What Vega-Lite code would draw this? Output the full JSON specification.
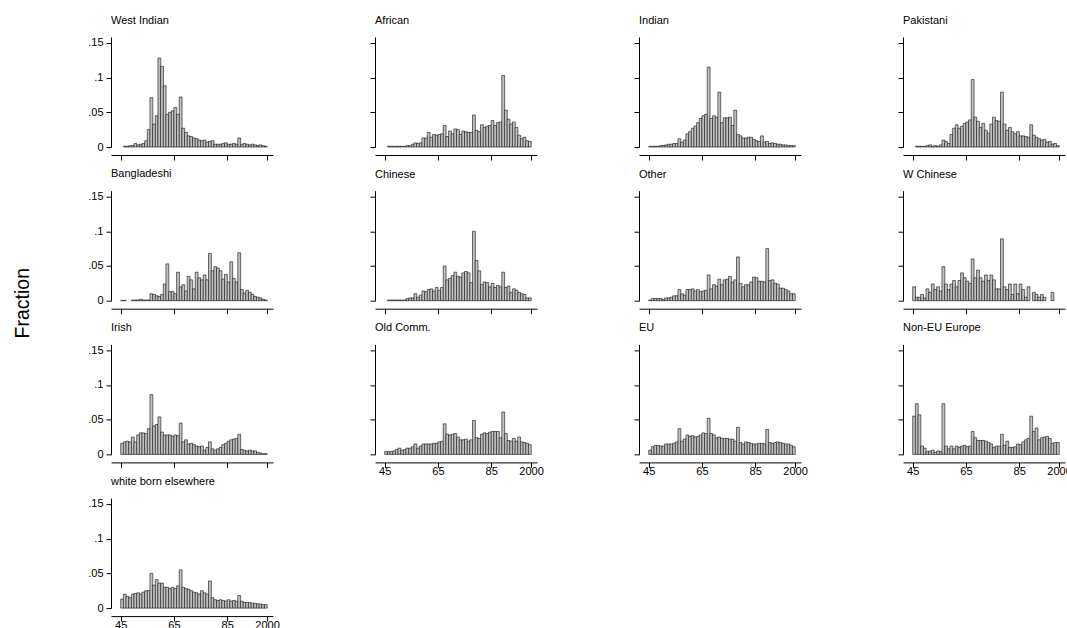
{
"$schema":"https://vega.github.io/schema/vega-lite/v6.json",
"padding":{"left":12,"top":14,"right":0,"bottom":0},
"background":"white",
"bounds":"flush",
"columns":4,
"spacing":{"row":43.7,"column":102},
"datasets":{"d":[
{"g":"WI","y":1946,"f":0.001},{"g":"WI","y":1947,"f":0.001},{"g":"WI","y":1948,"f":0.002},{"g":"WI","y":1949,"f":0.002},{"g":"WI","y":1950,"f":0.005},{"g":"WI","y":1951,"f":0.003},{"g":"WI","y":1952,"f":0.004},{"g":"WI","y":1953,"f":0.005},{"g":"WI","y":1954,"f":0.009},{"g":"WI","y":1955,"f":0.025},{"g":"WI","y":1956,"f":0.071},{"g":"WI","y":1957,"f":0.033},{"g":"WI","y":1958,"f":0.045},{"g":"WI","y":1959,"f":0.128},{"g":"WI","y":1960,"f":0.116},{"g":"WI","y":1961,"f":0.088},{"g":"WI","y":1962,"f":0.047},{"g":"WI","y":1963,"f":0.050},{"g":"WI","y":1964,"f":0.052},{"g":"WI","y":1965,"f":0.057},{"g":"WI","y":1966,"f":0.047},{"g":"WI","y":1967,"f":0.072},{"g":"WI","y":1968,"f":0.027},{"g":"WI","y":1969,"f":0.021},{"g":"WI","y":1970,"f":0.016},{"g":"WI","y":1971,"f":0.015},{"g":"WI","y":1972,"f":0.013},{"g":"WI","y":1973,"f":0.012},{"g":"WI","y":1974,"f":0.010},{"g":"WI","y":1975,"f":0.009},{"g":"WI","y":1976,"f":0.010},{"g":"WI","y":1977,"f":0.007},{"g":"WI","y":1978,"f":0.008},{"g":"WI","y":1979,"f":0.009},{"g":"WI","y":1980,"f":0.004},{"g":"WI","y":1981,"f":0.004},{"g":"WI","y":1982,"f":0.004},{"g":"WI","y":1983,"f":0.005},{"g":"WI","y":1984,"f":0.006},{"g":"WI","y":1985,"f":0.004},{"g":"WI","y":1986,"f":0.004},{"g":"WI","y":1987,"f":0.005},{"g":"WI","y":1988,"f":0.004},{"g":"WI","y":1989,"f":0.013},{"g":"WI","y":1990,"f":0.004},{"g":"WI","y":1991,"f":0.005},{"g":"WI","y":1992,"f":0.004},{"g":"WI","y":1993,"f":0.003},{"g":"WI","y":1994,"f":0.004},{"g":"WI","y":1995,"f":0.003},{"g":"WI","y":1996,"f":0.002},{"g":"WI","y":1997,"f":0.003},{"g":"WI","y":1998,"f":0.002},{"g":"WI","y":1999,"f":0.001},
{"g":"AF","y":1946,"f":0.001},{"g":"AF","y":1947,"f":0.001},{"g":"AF","y":1948,"f":0.001},{"g":"AF","y":1949,"f":0.001},{"g":"AF","y":1950,"f":0.001},{"g":"AF","y":1951,"f":0.001},{"g":"AF","y":1952,"f":0.001},{"g":"AF","y":1953,"f":0.002},{"g":"AF","y":1954,"f":0.002},{"g":"AF","y":1955,"f":0.004},{"g":"AF","y":1956,"f":0.006},{"g":"AF","y":1957,"f":0.005},{"g":"AF","y":1958,"f":0.006},{"g":"AF","y":1959,"f":0.013},{"g":"AF","y":1960,"f":0.013},{"g":"AF","y":1961,"f":0.021},{"g":"AF","y":1962,"f":0.014},{"g":"AF","y":1963,"f":0.018},{"g":"AF","y":1964,"f":0.017},{"g":"AF","y":1965,"f":0.018},{"g":"AF","y":1966,"f":0.019},{"g":"AF","y":1967,"f":0.031},{"g":"AF","y":1968,"f":0.015},{"g":"AF","y":1969,"f":0.023},{"g":"AF","y":1970,"f":0.019},{"g":"AF","y":1971,"f":0.026},{"g":"AF","y":1972,"f":0.025},{"g":"AF","y":1973,"f":0.018},{"g":"AF","y":1974,"f":0.023},{"g":"AF","y":1975,"f":0.022},{"g":"AF","y":1976,"f":0.021},{"g":"AF","y":1977,"f":0.021},{"g":"AF","y":1978,"f":0.046},{"g":"AF","y":1979,"f":0.024},{"g":"AF","y":1980,"f":0.022},{"g":"AF","y":1981,"f":0.032},{"g":"AF","y":1982,"f":0.028},{"g":"AF","y":1983,"f":0.030},{"g":"AF","y":1984,"f":0.031},{"g":"AF","y":1985,"f":0.038},{"g":"AF","y":1986,"f":0.031},{"g":"AF","y":1987,"f":0.035},{"g":"AF","y":1988,"f":0.036},{"g":"AF","y":1989,"f":0.103},{"g":"AF","y":1990,"f":0.053},{"g":"AF","y":1991,"f":0.040},{"g":"AF","y":1992,"f":0.033},{"g":"AF","y":1993,"f":0.036},{"g":"AF","y":1994,"f":0.028},{"g":"AF","y":1995,"f":0.017},{"g":"AF","y":1996,"f":0.012},{"g":"AF","y":1997,"f":0.014},{"g":"AF","y":1998,"f":0.009},{"g":"AF","y":1999,"f":0.008},
{"g":"IN","y":1945,"f":0.001},{"g":"IN","y":1946,"f":0.001},{"g":"IN","y":1947,"f":0.001},{"g":"IN","y":1948,"f":0.001},{"g":"IN","y":1949,"f":0.002},{"g":"IN","y":1950,"f":0.002},{"g":"IN","y":1951,"f":0.003},{"g":"IN","y":1952,"f":0.004},{"g":"IN","y":1953,"f":0.004},{"g":"IN","y":1954,"f":0.005},{"g":"IN","y":1955,"f":0.005},{"g":"IN","y":1956,"f":0.012},{"g":"IN","y":1957,"f":0.007},{"g":"IN","y":1958,"f":0.010},{"g":"IN","y":1959,"f":0.019},{"g":"IN","y":1960,"f":0.022},{"g":"IN","y":1961,"f":0.027},{"g":"IN","y":1962,"f":0.030},{"g":"IN","y":1963,"f":0.035},{"g":"IN","y":1964,"f":0.041},{"g":"IN","y":1965,"f":0.045},{"g":"IN","y":1966,"f":0.047},{"g":"IN","y":1967,"f":0.115},{"g":"IN","y":1968,"f":0.041},{"g":"IN","y":1969,"f":0.045},{"g":"IN","y":1970,"f":0.043},{"g":"IN","y":1971,"f":0.079},{"g":"IN","y":1972,"f":0.035},{"g":"IN","y":1973,"f":0.042},{"g":"IN","y":1974,"f":0.042},{"g":"IN","y":1975,"f":0.043},{"g":"IN","y":1976,"f":0.031},{"g":"IN","y":1977,"f":0.053},{"g":"IN","y":1978,"f":0.018},{"g":"IN","y":1979,"f":0.016},{"g":"IN","y":1980,"f":0.013},{"g":"IN","y":1981,"f":0.013},{"g":"IN","y":1982,"f":0.014},{"g":"IN","y":1983,"f":0.014},{"g":"IN","y":1984,"f":0.011},{"g":"IN","y":1985,"f":0.009},{"g":"IN","y":1986,"f":0.008},{"g":"IN","y":1987,"f":0.016},{"g":"IN","y":1988,"f":0.007},{"g":"IN","y":1989,"f":0.008},{"g":"IN","y":1990,"f":0.005},{"g":"IN","y":1991,"f":0.006},{"g":"IN","y":1992,"f":0.005},{"g":"IN","y":1993,"f":0.004},{"g":"IN","y":1994,"f":0.004},{"g":"IN","y":1995,"f":0.003},{"g":"IN","y":1996,"f":0.003},{"g":"IN","y":1997,"f":0.002},{"g":"IN","y":1998,"f":0.002},{"g":"IN","y":1999,"f":0.002},
{"g":"PK","y":1946,"f":0.001},{"g":"PK","y":1947,"f":0.001},{"g":"PK","y":1948,"f":0.001},{"g":"PK","y":1949,"f":0.001},{"g":"PK","y":1950,"f":0.002},{"g":"PK","y":1951,"f":0.003},{"g":"PK","y":1952,"f":0.001},{"g":"PK","y":1953,"f":0.002},{"g":"PK","y":1954,"f":0.001},{"g":"PK","y":1955,"f":0.003},{"g":"PK","y":1956,"f":0.010},{"g":"PK","y":1957,"f":0.008},{"g":"PK","y":1958,"f":0.005},{"g":"PK","y":1959,"f":0.018},{"g":"PK","y":1960,"f":0.027},{"g":"PK","y":1961,"f":0.032},{"g":"PK","y":1962,"f":0.027},{"g":"PK","y":1963,"f":0.030},{"g":"PK","y":1964,"f":0.034},{"g":"PK","y":1965,"f":0.036},{"g":"PK","y":1966,"f":0.039},{"g":"PK","y":1967,"f":0.097},{"g":"PK","y":1968,"f":0.043},{"g":"PK","y":1969,"f":0.037},{"g":"PK","y":1970,"f":0.028},{"g":"PK","y":1971,"f":0.034},{"g":"PK","y":1972,"f":0.024},{"g":"PK","y":1973,"f":0.020},{"g":"PK","y":1974,"f":0.033},{"g":"PK","y":1975,"f":0.043},{"g":"PK","y":1976,"f":0.038},{"g":"PK","y":1977,"f":0.037},{"g":"PK","y":1978,"f":0.079},{"g":"PK","y":1979,"f":0.033},{"g":"PK","y":1980,"f":0.024},{"g":"PK","y":1981,"f":0.028},{"g":"PK","y":1982,"f":0.022},{"g":"PK","y":1983,"f":0.019},{"g":"PK","y":1984,"f":0.022},{"g":"PK","y":1985,"f":0.016},{"g":"PK","y":1986,"f":0.016},{"g":"PK","y":1987,"f":0.015},{"g":"PK","y":1988,"f":0.014},{"g":"PK","y":1989,"f":0.032},{"g":"PK","y":1990,"f":0.017},{"g":"PK","y":1991,"f":0.014},{"g":"PK","y":1992,"f":0.012},{"g":"PK","y":1993,"f":0.010},{"g":"PK","y":1994,"f":0.011},{"g":"PK","y":1995,"f":0.007},{"g":"PK","y":1996,"f":0.008},{"g":"PK","y":1997,"f":0.004},{"g":"PK","y":1998,"f":0.005},{"g":"PK","y":1999,"f":0.002},
{"g":"BD","y":1945,"f":0.0005},{"g":"BD","y":1946,"f":0.0005},{"g":"BD","y":1949,"f":0.001},{"g":"BD","y":1950,"f":0.001},{"g":"BD","y":1951,"f":0.001},{"g":"BD","y":1952,"f":0.002},{"g":"BD","y":1953,"f":0.001},{"g":"BD","y":1954,"f":0.001},{"g":"BD","y":1955,"f":0.001},{"g":"BD","y":1956,"f":0.010},{"g":"BD","y":1957,"f":0.009},{"g":"BD","y":1958,"f":0.007},{"g":"BD","y":1959,"f":0.006},{"g":"BD","y":1960,"f":0.009},{"g":"BD","y":1961,"f":0.024},{"g":"BD","y":1962,"f":0.053},{"g":"BD","y":1963,"f":0.013},{"g":"BD","y":1964,"f":0.013},{"g":"BD","y":1965,"f":0.010},{"g":"BD","y":1966,"f":0.041},{"g":"BD","y":1967,"f":0.020},{"g":"BD","y":1968,"f":0.023},{"g":"BD","y":1969,"f":0.014},{"g":"BD","y":1970,"f":0.035},{"g":"BD","y":1971,"f":0.030},{"g":"BD","y":1972,"f":0.017},{"g":"BD","y":1973,"f":0.041},{"g":"BD","y":1974,"f":0.033},{"g":"BD","y":1975,"f":0.030},{"g":"BD","y":1976,"f":0.037},{"g":"BD","y":1977,"f":0.030},{"g":"BD","y":1978,"f":0.068},{"g":"BD","y":1979,"f":0.043},{"g":"BD","y":1980,"f":0.049},{"g":"BD","y":1981,"f":0.047},{"g":"BD","y":1982,"f":0.043},{"g":"BD","y":1983,"f":0.031},{"g":"BD","y":1984,"f":0.038},{"g":"BD","y":1985,"f":0.027},{"g":"BD","y":1986,"f":0.056},{"g":"BD","y":1987,"f":0.032},{"g":"BD","y":1988,"f":0.027},{"g":"BD","y":1989,"f":0.069},{"g":"BD","y":1990,"f":0.016},{"g":"BD","y":1991,"f":0.011},{"g":"BD","y":1992,"f":0.015},{"g":"BD","y":1993,"f":0.012},{"g":"BD","y":1994,"f":0.009},{"g":"BD","y":1995,"f":0.006},{"g":"BD","y":1996,"f":0.005},{"g":"BD","y":1997,"f":0.004},{"g":"BD","y":1998,"f":0.002},{"g":"BD","y":1999,"f":0.001},
{"g":"CN","y":1946,"f":0.001},{"g":"CN","y":1947,"f":0.001},{"g":"CN","y":1948,"f":0.001},{"g":"CN","y":1949,"f":0.001},{"g":"CN","y":1950,"f":0.001},{"g":"CN","y":1951,"f":0.001},{"g":"CN","y":1952,"f":0.001},{"g":"CN","y":1953,"f":0.003},{"g":"CN","y":1954,"f":0.004},{"g":"CN","y":1955,"f":0.004},{"g":"CN","y":1956,"f":0.010},{"g":"CN","y":1957,"f":0.005},{"g":"CN","y":1958,"f":0.008},{"g":"CN","y":1959,"f":0.014},{"g":"CN","y":1960,"f":0.013},{"g":"CN","y":1961,"f":0.016},{"g":"CN","y":1962,"f":0.017},{"g":"CN","y":1963,"f":0.014},{"g":"CN","y":1964,"f":0.019},{"g":"CN","y":1965,"f":0.015},{"g":"CN","y":1966,"f":0.019},{"g":"CN","y":1967,"f":0.050},{"g":"CN","y":1968,"f":0.030},{"g":"CN","y":1969,"f":0.032},{"g":"CN","y":1970,"f":0.036},{"g":"CN","y":1971,"f":0.041},{"g":"CN","y":1972,"f":0.035},{"g":"CN","y":1973,"f":0.034},{"g":"CN","y":1974,"f":0.040},{"g":"CN","y":1975,"f":0.042},{"g":"CN","y":1976,"f":0.040},{"g":"CN","y":1977,"f":0.026},{"g":"CN","y":1978,"f":0.100},{"g":"CN","y":1979,"f":0.058},{"g":"CN","y":1980,"f":0.043},{"g":"CN","y":1981,"f":0.023},{"g":"CN","y":1982,"f":0.027},{"g":"CN","y":1983,"f":0.026},{"g":"CN","y":1984,"f":0.020},{"g":"CN","y":1985,"f":0.025},{"g":"CN","y":1986,"f":0.019},{"g":"CN","y":1987,"f":0.022},{"g":"CN","y":1988,"f":0.020},{"g":"CN","y":1989,"f":0.041},{"g":"CN","y":1990,"f":0.019},{"g":"CN","y":1991,"f":0.021},{"g":"CN","y":1992,"f":0.012},{"g":"CN","y":1993,"f":0.017},{"g":"CN","y":1994,"f":0.015},{"g":"CN","y":1995,"f":0.012},{"g":"CN","y":1996,"f":0.010},{"g":"CN","y":1997,"f":0.009},{"g":"CN","y":1998,"f":0.004},{"g":"CN","y":1999,"f":0.004},
{"g":"OT","y":1945,"f":0.001},{"g":"OT","y":1946,"f":0.003},{"g":"OT","y":1947,"f":0.003},{"g":"OT","y":1948,"f":0.003},{"g":"OT","y":1949,"f":0.003},{"g":"OT","y":1950,"f":0.002},{"g":"OT","y":1951,"f":0.004},{"g":"OT","y":1952,"f":0.004},{"g":"OT","y":1953,"f":0.005},{"g":"OT","y":1954,"f":0.007},{"g":"OT","y":1955,"f":0.007},{"g":"OT","y":1956,"f":0.016},{"g":"OT","y":1957,"f":0.010},{"g":"OT","y":1958,"f":0.008},{"g":"OT","y":1959,"f":0.016},{"g":"OT","y":1960,"f":0.016},{"g":"OT","y":1961,"f":0.017},{"g":"OT","y":1962,"f":0.014},{"g":"OT","y":1963,"f":0.016},{"g":"OT","y":1964,"f":0.013},{"g":"OT","y":1965,"f":0.014},{"g":"OT","y":1966,"f":0.015},{"g":"OT","y":1967,"f":0.037},{"g":"OT","y":1968,"f":0.017},{"g":"OT","y":1969,"f":0.023},{"g":"OT","y":1970,"f":0.021},{"g":"OT","y":1971,"f":0.031},{"g":"OT","y":1972,"f":0.023},{"g":"OT","y":1973,"f":0.030},{"g":"OT","y":1974,"f":0.031},{"g":"OT","y":1975,"f":0.035},{"g":"OT","y":1976,"f":0.027},{"g":"OT","y":1977,"f":0.030},{"g":"OT","y":1978,"f":0.063},{"g":"OT","y":1979,"f":0.025},{"g":"OT","y":1980,"f":0.020},{"g":"OT","y":1981,"f":0.023},{"g":"OT","y":1982,"f":0.023},{"g":"OT","y":1983,"f":0.027},{"g":"OT","y":1984,"f":0.034},{"g":"OT","y":1985,"f":0.033},{"g":"OT","y":1986,"f":0.028},{"g":"OT","y":1987,"f":0.028},{"g":"OT","y":1988,"f":0.027},{"g":"OT","y":1989,"f":0.075},{"g":"OT","y":1990,"f":0.029},{"g":"OT","y":1991,"f":0.030},{"g":"OT","y":1992,"f":0.025},{"g":"OT","y":1993,"f":0.024},{"g":"OT","y":1994,"f":0.018},{"g":"OT","y":1995,"f":0.018},{"g":"OT","y":1996,"f":0.016},{"g":"OT","y":1997,"f":0.014},{"g":"OT","y":1998,"f":0.010},{"g":"OT","y":1999,"f":0.010},
{"g":"WC","y":1945,"f":0.020},{"g":"WC","y":1946,"f":0.005},{"g":"WC","y":1947,"f":0.005},{"g":"WC","y":1948,"f":0.009},{"g":"WC","y":1949,"f":0.004},{"g":"WC","y":1950,"f":0.017},{"g":"WC","y":1951,"f":0.012},{"g":"WC","y":1952,"f":0.024},{"g":"WC","y":1953,"f":0.016},{"g":"WC","y":1954,"f":0.020},{"g":"WC","y":1955,"f":0.014},{"g":"WC","y":1956,"f":0.049},{"g":"WC","y":1957,"f":0.024},{"g":"WC","y":1958,"f":0.016},{"g":"WC","y":1959,"f":0.024},{"g":"WC","y":1960,"f":0.029},{"g":"WC","y":1961,"f":0.020},{"g":"WC","y":1962,"f":0.029},{"g":"WC","y":1963,"f":0.040},{"g":"WC","y":1964,"f":0.033},{"g":"WC","y":1965,"f":0.028},{"g":"WC","y":1966,"f":0.025},{"g":"WC","y":1967,"f":0.060},{"g":"WC","y":1968,"f":0.033},{"g":"WC","y":1969,"f":0.044},{"g":"WC","y":1970,"f":0.033},{"g":"WC","y":1971,"f":0.028},{"g":"WC","y":1972,"f":0.037},{"g":"WC","y":1973,"f":0.029},{"g":"WC","y":1974,"f":0.037},{"g":"WC","y":1975,"f":0.030},{"g":"WC","y":1976,"f":0.017},{"g":"WC","y":1977,"f":0.017},{"g":"WC","y":1978,"f":0.089},{"g":"WC","y":1979,"f":0.020},{"g":"WC","y":1980,"f":0.016},{"g":"WC","y":1981,"f":0.024},{"g":"WC","y":1982,"f":0.009},{"g":"WC","y":1983,"f":0.024},{"g":"WC","y":1984,"f":0.010},{"g":"WC","y":1985,"f":0.024},{"g":"WC","y":1986,"f":0.016},{"g":"WC","y":1987,"f":0.005},{"g":"WC","y":1988,"f":0.020},{"g":"WC","y":1990,"f":0.012},{"g":"WC","y":1991,"f":0.009},{"g":"WC","y":1992,"f":0.005},{"g":"WC","y":1993,"f":0.009},{"g":"WC","y":1994,"f":0.005},{"g":"WC","y":1997,"f":0.012},
{"g":"IR","y":1945,"f":0.016},{"g":"IR","y":1946,"f":0.018},{"g":"IR","y":1947,"f":0.019},{"g":"IR","y":1948,"f":0.018},{"g":"IR","y":1949,"f":0.025},{"g":"IR","y":1950,"f":0.018},{"g":"IR","y":1951,"f":0.028},{"g":"IR","y":1952,"f":0.031},{"g":"IR","y":1953,"f":0.031},{"g":"IR","y":1954,"f":0.030},{"g":"IR","y":1955,"f":0.037},{"g":"IR","y":1956,"f":0.086},{"g":"IR","y":1957,"f":0.041},{"g":"IR","y":1958,"f":0.043},{"g":"IR","y":1959,"f":0.054},{"g":"IR","y":1960,"f":0.032},{"g":"IR","y":1961,"f":0.028},{"g":"IR","y":1962,"f":0.028},{"g":"IR","y":1963,"f":0.028},{"g":"IR","y":1964,"f":0.026},{"g":"IR","y":1965,"f":0.028},{"g":"IR","y":1966,"f":0.027},{"g":"IR","y":1967,"f":0.045},{"g":"IR","y":1968,"f":0.018},{"g":"IR","y":1969,"f":0.021},{"g":"IR","y":1970,"f":0.015},{"g":"IR","y":1971,"f":0.016},{"g":"IR","y":1972,"f":0.014},{"g":"IR","y":1973,"f":0.012},{"g":"IR","y":1974,"f":0.011},{"g":"IR","y":1975,"f":0.012},{"g":"IR","y":1976,"f":0.006},{"g":"IR","y":1977,"f":0.010},{"g":"IR","y":1978,"f":0.018},{"g":"IR","y":1979,"f":0.008},{"g":"IR","y":1980,"f":0.006},{"g":"IR","y":1981,"f":0.008},{"g":"IR","y":1982,"f":0.010},{"g":"IR","y":1983,"f":0.014},{"g":"IR","y":1984,"f":0.016},{"g":"IR","y":1985,"f":0.019},{"g":"IR","y":1986,"f":0.021},{"g":"IR","y":1987,"f":0.022},{"g":"IR","y":1988,"f":0.023},{"g":"IR","y":1989,"f":0.029},{"g":"IR","y":1990,"f":0.007},{"g":"IR","y":1991,"f":0.006},{"g":"IR","y":1992,"f":0.005},{"g":"IR","y":1993,"f":0.006},{"g":"IR","y":1994,"f":0.005},{"g":"IR","y":1995,"f":0.005},{"g":"IR","y":1996,"f":0.003},{"g":"IR","y":1997,"f":0.002},{"g":"IR","y":1998,"f":0.001},{"g":"IR","y":1999,"f":0.001},
{"g":"OC","y":1945,"f":0.004},{"g":"OC","y":1946,"f":0.004},{"g":"OC","y":1947,"f":0.004},{"g":"OC","y":1948,"f":0.005},{"g":"OC","y":1949,"f":0.007},{"g":"OC","y":1950,"f":0.009},{"g":"OC","y":1951,"f":0.006},{"g":"OC","y":1952,"f":0.007},{"g":"OC","y":1953,"f":0.009},{"g":"OC","y":1954,"f":0.009},{"g":"OC","y":1955,"f":0.011},{"g":"OC","y":1956,"f":0.015},{"g":"OC","y":1957,"f":0.009},{"g":"OC","y":1958,"f":0.012},{"g":"OC","y":1959,"f":0.015},{"g":"OC","y":1960,"f":0.015},{"g":"OC","y":1961,"f":0.015},{"g":"OC","y":1962,"f":0.015},{"g":"OC","y":1963,"f":0.016},{"g":"OC","y":1964,"f":0.016},{"g":"OC","y":1965,"f":0.018},{"g":"OC","y":1966,"f":0.019},{"g":"OC","y":1967,"f":0.044},{"g":"OC","y":1968,"f":0.029},{"g":"OC","y":1969,"f":0.028},{"g":"OC","y":1970,"f":0.029},{"g":"OC","y":1971,"f":0.030},{"g":"OC","y":1972,"f":0.025},{"g":"OC","y":1973,"f":0.021},{"g":"OC","y":1974,"f":0.021},{"g":"OC","y":1975,"f":0.022},{"g":"OC","y":1976,"f":0.019},{"g":"OC","y":1977,"f":0.021},{"g":"OC","y":1978,"f":0.049},{"g":"OC","y":1979,"f":0.024},{"g":"OC","y":1980,"f":0.023},{"g":"OC","y":1981,"f":0.029},{"g":"OC","y":1982,"f":0.031},{"g":"OC","y":1983,"f":0.030},{"g":"OC","y":1984,"f":0.032},{"g":"OC","y":1985,"f":0.033},{"g":"OC","y":1986,"f":0.033},{"g":"OC","y":1987,"f":0.033},{"g":"OC","y":1988,"f":0.024},{"g":"OC","y":1989,"f":0.061},{"g":"OC","y":1990,"f":0.030},{"g":"OC","y":1991,"f":0.020},{"g":"OC","y":1992,"f":0.019},{"g":"OC","y":1993,"f":0.023},{"g":"OC","y":1994,"f":0.019},{"g":"OC","y":1995,"f":0.025},{"g":"OC","y":1996,"f":0.018},{"g":"OC","y":1997,"f":0.017},{"g":"OC","y":1998,"f":0.016},{"g":"OC","y":1999,"f":0.014},
{"g":"EU","y":1945,"f":0.006},{"g":"EU","y":1946,"f":0.011},{"g":"EU","y":1947,"f":0.013},{"g":"EU","y":1948,"f":0.013},{"g":"EU","y":1949,"f":0.012},{"g":"EU","y":1950,"f":0.012},{"g":"EU","y":1951,"f":0.015},{"g":"EU","y":1952,"f":0.015},{"g":"EU","y":1953,"f":0.015},{"g":"EU","y":1954,"f":0.016},{"g":"EU","y":1955,"f":0.018},{"g":"EU","y":1956,"f":0.037},{"g":"EU","y":1957,"f":0.019},{"g":"EU","y":1958,"f":0.022},{"g":"EU","y":1959,"f":0.028},{"g":"EU","y":1960,"f":0.026},{"g":"EU","y":1961,"f":0.027},{"g":"EU","y":1962,"f":0.025},{"g":"EU","y":1963,"f":0.026},{"g":"EU","y":1964,"f":0.028},{"g":"EU","y":1965,"f":0.031},{"g":"EU","y":1966,"f":0.030},{"g":"EU","y":1967,"f":0.052},{"g":"EU","y":1968,"f":0.030},{"g":"EU","y":1969,"f":0.028},{"g":"EU","y":1970,"f":0.024},{"g":"EU","y":1971,"f":0.025},{"g":"EU","y":1972,"f":0.023},{"g":"EU","y":1973,"f":0.023},{"g":"EU","y":1974,"f":0.023},{"g":"EU","y":1975,"f":0.022},{"g":"EU","y":1976,"f":0.022},{"g":"EU","y":1977,"f":0.019},{"g":"EU","y":1978,"f":0.039},{"g":"EU","y":1979,"f":0.017},{"g":"EU","y":1980,"f":0.015},{"g":"EU","y":1981,"f":0.018},{"g":"EU","y":1982,"f":0.017},{"g":"EU","y":1983,"f":0.016},{"g":"EU","y":1984,"f":0.015},{"g":"EU","y":1985,"f":0.015},{"g":"EU","y":1986,"f":0.016},{"g":"EU","y":1987,"f":0.016},{"g":"EU","y":1988,"f":0.015},{"g":"EU","y":1989,"f":0.036},{"g":"EU","y":1990,"f":0.017},{"g":"EU","y":1991,"f":0.016},{"g":"EU","y":1992,"f":0.017},{"g":"EU","y":1993,"f":0.018},{"g":"EU","y":1994,"f":0.017},{"g":"EU","y":1995,"f":0.016},{"g":"EU","y":1996,"f":0.015},{"g":"EU","y":1997,"f":0.015},{"g":"EU","y":1998,"f":0.013},{"g":"EU","y":1999,"f":0.011},
{"g":"NE","y":1945,"f":0.055},{"g":"NE","y":1946,"f":0.073},{"g":"NE","y":1947,"f":0.057},{"g":"NE","y":1948,"f":0.012},{"g":"NE","y":1949,"f":0.009},{"g":"NE","y":1950,"f":0.004},{"g":"NE","y":1951,"f":0.005},{"g":"NE","y":1952,"f":0.006},{"g":"NE","y":1953,"f":0.003},{"g":"NE","y":1954,"f":0.005},{"g":"NE","y":1955,"f":0.004},{"g":"NE","y":1956,"f":0.073},{"g":"NE","y":1957,"f":0.012},{"g":"NE","y":1958,"f":0.008},{"g":"NE","y":1959,"f":0.012},{"g":"NE","y":1960,"f":0.008},{"g":"NE","y":1961,"f":0.012},{"g":"NE","y":1962,"f":0.010},{"g":"NE","y":1963,"f":0.012},{"g":"NE","y":1964,"f":0.013},{"g":"NE","y":1965,"f":0.011},{"g":"NE","y":1966,"f":0.012},{"g":"NE","y":1967,"f":0.033},{"g":"NE","y":1968,"f":0.024},{"g":"NE","y":1969,"f":0.020},{"g":"NE","y":1970,"f":0.020},{"g":"NE","y":1971,"f":0.020},{"g":"NE","y":1972,"f":0.019},{"g":"NE","y":1973,"f":0.017},{"g":"NE","y":1974,"f":0.015},{"g":"NE","y":1975,"f":0.010},{"g":"NE","y":1976,"f":0.012},{"g":"NE","y":1977,"f":0.012},{"g":"NE","y":1978,"f":0.029},{"g":"NE","y":1979,"f":0.013},{"g":"NE","y":1980,"f":0.019},{"g":"NE","y":1981,"f":0.010},{"g":"NE","y":1982,"f":0.010},{"g":"NE","y":1983,"f":0.011},{"g":"NE","y":1984,"f":0.015},{"g":"NE","y":1985,"f":0.014},{"g":"NE","y":1986,"f":0.018},{"g":"NE","y":1987,"f":0.021},{"g":"NE","y":1988,"f":0.023},{"g":"NE","y":1989,"f":0.055},{"g":"NE","y":1990,"f":0.033},{"g":"NE","y":1991,"f":0.038},{"g":"NE","y":1992,"f":0.021},{"g":"NE","y":1993,"f":0.024},{"g":"NE","y":1994,"f":0.025},{"g":"NE","y":1995,"f":0.026},{"g":"NE","y":1996,"f":0.023},{"g":"NE","y":1997,"f":0.016},{"g":"NE","y":1998,"f":0.017},{"g":"NE","y":1999,"f":0.017},
{"g":"WB","y":1945,"f":0.013},{"g":"WB","y":1946,"f":0.020},{"g":"WB","y":1947,"f":0.017},{"g":"WB","y":1948,"f":0.015},{"g":"WB","y":1949,"f":0.020},{"g":"WB","y":1950,"f":0.021},{"g":"WB","y":1951,"f":0.022},{"g":"WB","y":1952,"f":0.020},{"g":"WB","y":1953,"f":0.023},{"g":"WB","y":1954,"f":0.025},{"g":"WB","y":1955,"f":0.025},{"g":"WB","y":1956,"f":0.050},{"g":"WB","y":1957,"f":0.033},{"g":"WB","y":1958,"f":0.041},{"g":"WB","y":1959,"f":0.036},{"g":"WB","y":1960,"f":0.036},{"g":"WB","y":1961,"f":0.030},{"g":"WB","y":1962,"f":0.030},{"g":"WB","y":1963,"f":0.028},{"g":"WB","y":1964,"f":0.030},{"g":"WB","y":1965,"f":0.028},{"g":"WB","y":1966,"f":0.032},{"g":"WB","y":1967,"f":0.055},{"g":"WB","y":1968,"f":0.030},{"g":"WB","y":1969,"f":0.028},{"g":"WB","y":1970,"f":0.027},{"g":"WB","y":1971,"f":0.025},{"g":"WB","y":1972,"f":0.023},{"g":"WB","y":1973,"f":0.022},{"g":"WB","y":1974,"f":0.020},{"g":"WB","y":1975,"f":0.025},{"g":"WB","y":1976,"f":0.022},{"g":"WB","y":1977,"f":0.020},{"g":"WB","y":1978,"f":0.039},{"g":"WB","y":1979,"f":0.015},{"g":"WB","y":1980,"f":0.012},{"g":"WB","y":1981,"f":0.011},{"g":"WB","y":1982,"f":0.012},{"g":"WB","y":1983,"f":0.011},{"g":"WB","y":1984,"f":0.010},{"g":"WB","y":1985,"f":0.012},{"g":"WB","y":1986,"f":0.010},{"g":"WB","y":1987,"f":0.011},{"g":"WB","y":1988,"f":0.010},{"g":"WB","y":1989,"f":0.018},{"g":"WB","y":1990,"f":0.010},{"g":"WB","y":1991,"f":0.008},{"g":"WB","y":1992,"f":0.008},{"g":"WB","y":1993,"f":0.008},{"g":"WB","y":1994,"f":0.007},{"g":"WB","y":1995,"f":0.007},{"g":"WB","y":1996,"f":0.006},{"g":"WB","y":1997,"f":0.006},{"g":"WB","y":1998,"f":0.005},{"g":"WB","y":1999,"f":0.005}
]},
"data":{"name":"d"},
"concat":[
{"title":"West Indian","width":162,"height":110,"transform":[{"filter":"datum.g=='WI'"}],"mark":{"type":"bar","width":2.837,"xOffset":1.418,"fill":"#c0c0c0","stroke":"#111","strokeWidth":0.6},
 "encoding":{"x":{"field":"y","type":"quantitative","scale":{"domain":[1943.24,2000.35],"nice":false,"zero":false},"axis":{"title":null,"values":[1945,1965,1985,2000],"labels":false}},
 "y":{"field":"f","type":"quantitative","scale":{"domain":[0,0.1583],"nice":false},"axis":{"title":null,"values":[0,0.05,0.1,0.15],"labelExpr":"datum.value==0?'0':datum.value==0.05?'.05':datum.value==0.1?'.1':'.15'"}}}},
{"title":"African","width":162,"height":110,"transform":[{"filter":"datum.g=='AF'"}],"mark":{"type":"bar","width":2.837,"xOffset":1.418,"fill":"#c0c0c0","stroke":"#111","strokeWidth":0.6},
 "encoding":{"x":{"field":"y","type":"quantitative","scale":{"domain":[1943.24,2000.35],"nice":false,"zero":false},"axis":{"title":null,"values":[1945,1965,1985,2000],"labels":false}},
 "y":{"field":"f","type":"quantitative","scale":{"domain":[0,0.1583],"nice":false},"axis":{"title":null,"values":[0,0.05,0.1,0.15],"labels":false}}}},
{"title":"Indian","width":162,"height":110,"transform":[{"filter":"datum.g=='IN'"}],"mark":{"type":"bar","width":2.837,"xOffset":1.418,"fill":"#c0c0c0","stroke":"#111","strokeWidth":0.6},
 "encoding":{"x":{"field":"y","type":"quantitative","scale":{"domain":[1943.24,2000.35],"nice":false,"zero":false},"axis":{"title":null,"values":[1945,1965,1985,2000],"labels":false}},
 "y":{"field":"f","type":"quantitative","scale":{"domain":[0,0.1583],"nice":false},"axis":{"title":null,"values":[0,0.05,0.1,0.15],"labels":false}}}},
{"title":"Pakistani","width":162,"height":110,"transform":[{"filter":"datum.g=='PK'"}],"mark":{"type":"bar","width":2.837,"xOffset":1.418,"fill":"#c0c0c0","stroke":"#111","strokeWidth":0.6},
 "encoding":{"x":{"field":"y","type":"quantitative","scale":{"domain":[1943.24,2000.35],"nice":false,"zero":false},"axis":{"title":null,"values":[1945,1965,1985,2000],"labels":false}},
 "y":{"field":"f","type":"quantitative","scale":{"domain":[0,0.1583],"nice":false},"axis":{"title":null,"values":[0,0.05,0.1,0.15],"labels":false}}}},
{"title":"Bangladeshi","width":162,"height":110,"transform":[{"filter":"datum.g=='BD'"}],"mark":{"type":"bar","width":2.837,"xOffset":1.418,"fill":"#c0c0c0","stroke":"#111","strokeWidth":0.6},
 "encoding":{"x":{"field":"y","type":"quantitative","scale":{"domain":[1943.24,2000.35],"nice":false,"zero":false},"axis":{"title":null,"values":[1945,1965,1985,2000],"labels":false}},
 "y":{"field":"f","type":"quantitative","scale":{"domain":[0,0.1583],"nice":false},"axis":{"title":"Fraction","titleFontSize":19.5,"titleFontWeight":"normal","titleFont":"Liberation Sans","titleColor":"#000","titleX":-79,"titleY":112,"titleAngle":-90,"titleAlign":"center","titleBaseline":"bottom","values":[0,0.05,0.1,0.15],"labelExpr":"datum.value==0?'0':datum.value==0.05?'.05':datum.value==0.1?'.1':'.15'"}}}},
{"title":"Chinese","width":162,"height":110,"transform":[{"filter":"datum.g=='CN'"}],"mark":{"type":"bar","width":2.837,"xOffset":1.418,"fill":"#c0c0c0","stroke":"#111","strokeWidth":0.6},
 "encoding":{"x":{"field":"y","type":"quantitative","scale":{"domain":[1943.24,2000.35],"nice":false,"zero":false},"axis":{"title":null,"values":[1945,1965,1985,2000],"labels":false}},
 "y":{"field":"f","type":"quantitative","scale":{"domain":[0,0.1583],"nice":false},"axis":{"title":null,"values":[0,0.05,0.1,0.15],"labels":false}}}},
{"title":"Other","width":162,"height":110,"transform":[{"filter":"datum.g=='OT'"}],"mark":{"type":"bar","width":2.837,"xOffset":1.418,"fill":"#c0c0c0","stroke":"#111","strokeWidth":0.6},
 "encoding":{"x":{"field":"y","type":"quantitative","scale":{"domain":[1943.24,2000.35],"nice":false,"zero":false},"axis":{"title":null,"values":[1945,1965,1985,2000],"labels":false}},
 "y":{"field":"f","type":"quantitative","scale":{"domain":[0,0.1583],"nice":false},"axis":{"title":null,"values":[0,0.05,0.1,0.15],"labels":false}}}},
{"title":"W Chinese","width":162,"height":110,"transform":[{"filter":"datum.g=='WC'"}],"mark":{"type":"bar","width":2.837,"xOffset":1.418,"fill":"#c0c0c0","stroke":"#111","strokeWidth":0.6},
 "encoding":{"x":{"field":"y","type":"quantitative","scale":{"domain":[1943.24,2000.35],"nice":false,"zero":false},"axis":{"title":null,"values":[1945,1965,1985,2000],"labels":false}},
 "y":{"field":"f","type":"quantitative","scale":{"domain":[0,0.1583],"nice":false},"axis":{"title":null,"values":[0,0.05,0.1,0.15],"labels":false}}}},
{"title":"Irish","width":162,"height":110,"transform":[{"filter":"datum.g=='IR'"}],"mark":{"type":"bar","width":2.837,"xOffset":1.418,"fill":"#c0c0c0","stroke":"#111","strokeWidth":0.6},
 "encoding":{"x":{"field":"y","type":"quantitative","scale":{"domain":[1943.24,2000.35],"nice":false,"zero":false},"axis":{"title":null,"values":[1945,1965,1985,2000],"labels":false}},
 "y":{"field":"f","type":"quantitative","scale":{"domain":[0,0.1583],"nice":false},"axis":{"title":null,"values":[0,0.05,0.1,0.15],"labelExpr":"datum.value==0?'0':datum.value==0.05?'.05':datum.value==0.1?'.1':'.15'"}}}},
{"title":"Old Comm.","width":162,"height":110,"transform":[{"filter":"datum.g=='OC'"}],"mark":{"type":"bar","width":2.837,"xOffset":1.418,"fill":"#c0c0c0","stroke":"#111","strokeWidth":0.6},
 "encoding":{"x":{"field":"y","type":"quantitative","scale":{"domain":[1943.24,2000.35],"nice":false,"zero":false},"axis":{"title":null,"values":[1945,1965,1985,2000],"labelExpr":"datum.value==2000?'2000':slice(toString(datum.value),2)"}},
 "y":{"field":"f","type":"quantitative","scale":{"domain":[0,0.1583],"nice":false},"axis":{"title":null,"values":[0,0.05,0.1,0.15],"labels":false}}}},
{"title":"EU","width":162,"height":110,"transform":[{"filter":"datum.g=='EU'"}],"mark":{"type":"bar","width":2.837,"xOffset":1.418,"fill":"#c0c0c0","stroke":"#111","strokeWidth":0.6},
 "encoding":{"x":{"field":"y","type":"quantitative","scale":{"domain":[1943.24,2000.35],"nice":false,"zero":false},"axis":{"title":null,"values":[1945,1965,1985,2000],"labelExpr":"datum.value==2000?'2000':slice(toString(datum.value),2)"}},
 "y":{"field":"f","type":"quantitative","scale":{"domain":[0,0.1583],"nice":false},"axis":{"title":null,"values":[0,0.05,0.1,0.15],"labels":false}}}},
{"title":"Non-EU Europe","width":162,"height":110,"transform":[{"filter":"datum.g=='NE'"}],"mark":{"type":"bar","width":2.837,"xOffset":1.418,"fill":"#c0c0c0","stroke":"#111","strokeWidth":0.6},
 "encoding":{"x":{"field":"y","type":"quantitative","scale":{"domain":[1943.24,2000.35],"nice":false,"zero":false},"axis":{"title":null,"values":[1945,1965,1985,2000],"labelExpr":"datum.value==2000?'2000':slice(toString(datum.value),2)"}},
 "y":{"field":"f","type":"quantitative","scale":{"domain":[0,0.1583],"nice":false},"axis":{"title":null,"values":[0,0.05,0.1,0.15],"labels":false}}}},
{"title":"white born elsewhere","width":162,"height":110,"transform":[{"filter":"datum.g=='WB'"}],"mark":{"type":"bar","width":2.837,"xOffset":1.418,"fill":"#c0c0c0","stroke":"#111","strokeWidth":0.6},
 "encoding":{"x":{"field":"y","type":"quantitative","scale":{"domain":[1943.24,2000.35],"nice":false,"zero":false},"axis":{"title":null,"values":[1945,1965,1985,2000],"labelExpr":"datum.value==2000?'2000':slice(toString(datum.value),2)"}},
 "y":{"field":"f","type":"quantitative","scale":{"domain":[0,0.1583],"nice":false},"axis":{"title":null,"values":[0,0.05,0.1,0.15],"labelExpr":"datum.value==0?'0':datum.value==0.05?'.05':datum.value==0.1?'.1':'.15'"}}}}
],
"config":{
 "view":{"stroke":null},
 "font":"Liberation Sans",
 "axis":{"grid":false,"domainColor":"#000","tickColor":"#000","labelColor":"#000","labelFont":"Liberation Sans","labelFontSize":11,"tickSize":5,"domainWidth":1,"tickWidth":1},
 "axisX":{"offset":8,"labelPadding":-2,"labelAngle":0,"labelFlush":false},
 "axisY":{"labelPadding":3},
 "title":{"anchor":"start","frame":"group","fontSize":11,"fontWeight":"normal","font":"Liberation Sans","color":"#000","baseline":"alphabetic","offset":11}
}
}
